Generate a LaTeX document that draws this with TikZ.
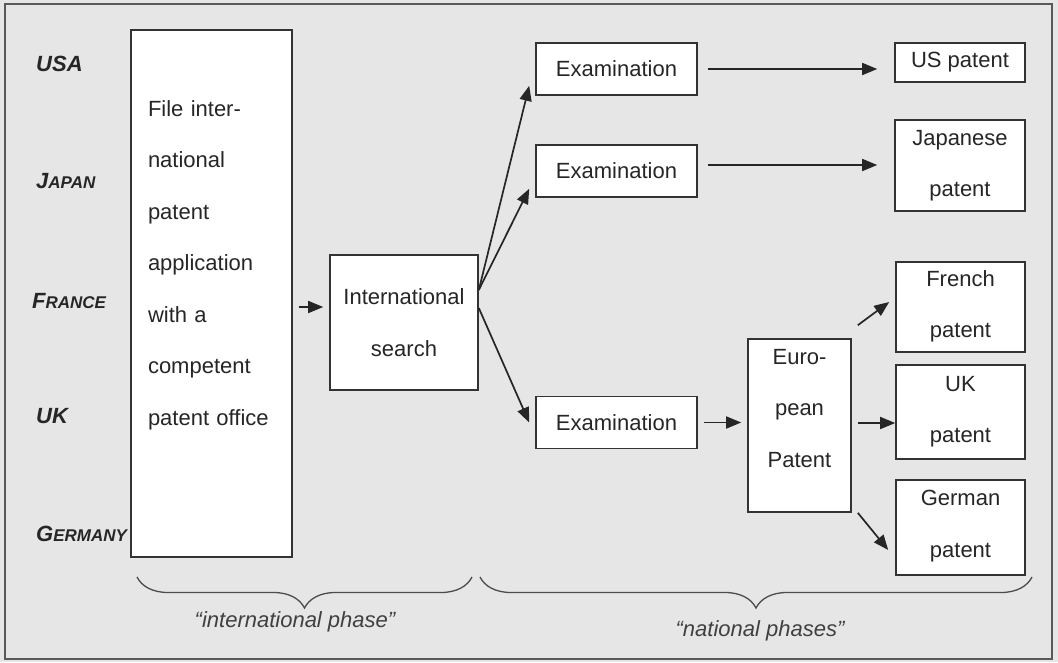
\documentclass[tikz,border=0pt]{standalone}
\usepackage{fontspec}
\setmainfont{Liberation Sans}
\usetikzlibrary{arrows.meta,calc,decorations.pathreplacing}

\definecolor{pagegray}{HTML}{E6E6E6}
\definecolor{edgegray}{HTML}{333333}
% invisible rule that lowers the bottom of a node's text
\newcommand{\dropstrut}[1]{\rule[-#1]{0pt}{#1}}

\tikzset{
    box/.style={draw=edgegray, line width=1.6pt, fill=white, inner sep=0pt, align=center,
        font=\fontsize{22}{51.5}\selectfont, text=black!85},
    country/.style={anchor=base west, inner sep=0pt, font=\fontsize{22}{26}\selectfont\bfseries\itshape, text=black!85},
    phase/.style={font=\fontsize{22}{26}\selectfont\itshape, text=black!75},
    arr/.style={-{Triangle[length=15pt,width=12pt]}, line width=1.7pt, black!85},
    curly/.style={decorate, decoration={brace, mirror, amplitude=31pt}, line width=1.3pt, black!70}
}

\begin{document}
\begin{tikzpicture}[x=1pt,y=-1pt]
    \useasboundingbox (0,0) rectangle (1058,662);
    \fill[pagegray] (0,0) rectangle (1058,662);
    \draw[gray!70!black, line width=2pt] (5,4) rectangle (1052,659);

    \node[box, minimum width=161pt, minimum height=527pt, align=left, text width=127pt] (file) at (211.5,293.5)
        {File inter-\\national\\patent\\application\\with a\\competent\\patent office\dropstrut{61pt}};
    \node[box, minimum width=148pt, minimum height=135pt] (is) at (404,322.5) {International\\search};
    \foreach \n/\y in {1/69, 2/171, 3/422.5}
        \node[box, minimum width=161pt, minimum height=52pt] (exam\n) at (616.5,\y) {Examination};
    \node[box, minimum width=103pt, minimum height=173pt] (euro) at (799.5,425.5) {Euro-\\pean\\Patent\dropstrut{35pt}};

    \node[box, minimum width=130pt, minimum height=39pt] (us) at (960,62.5) {US patent};
    \node[box, minimum width=130pt, minimum height=91pt] (jap) at (960,165.5) {Japanese\\patent\dropstrut{3pt}};
    \node[box, minimum width=129pt, minimum height=90pt] (french) at (960.5,307) {French\\patent\dropstrut{6pt}};
    \node[box, minimum width=129pt, minimum height=94pt] (uk) at (960.5,412) {UK\\patent\dropstrut{5pt}};
    \node[box, minimum width=129pt, minimum height=95pt] (german) at (960.5,527.5) {German\\patent\dropstrut{7pt}};

    % international phase
    \draw[arr] ($(file.east)+(6,13.5)$) -- ($(is.west)+(-6,-15.5)$);
    \draw[arr] ($(is.east)+(0,-32.5)$) -- ($(exam1.south west)+(-6,-10)$);
    \draw[arr] ($(is.east)+(0,-32.5)$) -- ($(exam2.south west)+(-6,-9)$);
    \draw[arr] ($(is.east)+(0,-14.5)$) -- ($(exam3.west)+(-6,0)$);

    % national phases
    \draw[arr] ($(exam1.east)+(10,0)$) -- ($(exam1.east -| us.west)+(-17,0)$);
    \draw[arr] ($(exam2.east)+(10,-6)$) -- ($(exam2.east -| jap.west)+(-17,-6)$);
    \draw[arr] ($(exam3.east)+(6,0)$) -- ($(exam3.east -| euro.west)+(-6,0)$);
    \draw[arr] ($(euro.north east)+(6,-13)$) -- ($(french.west)+(-6,-5)$);
    \draw[arr] ($(euro.east)+(6,-2.5)$) -- ($(euro.east -| uk.west)+(0,-2.5)$);
    \draw[arr] ($(euro.south east)+(6,0)$) -- ($(german.west)+(-7,22.5)$);

    \draw[curly] (137,577) -- (472,577);
    \draw[curly] (480,577) -- (1032,577);
    \node[phase] (intl) at (295,622) {“international phase”};
    \node[phase] (natl) at (760,631) {“national phases”};

    \foreach \capl/\restl/\x/\y in {USA//36/71, J/APAN/36/188, F/RANCE/32/308, UK//36/423, G/ERMANY/36/541}
        \node[country] (c\capl) at (\x,\y) {\capl{\fontsize{17}{20}\selectfont\restl}};
\end{tikzpicture}
\end{document}
